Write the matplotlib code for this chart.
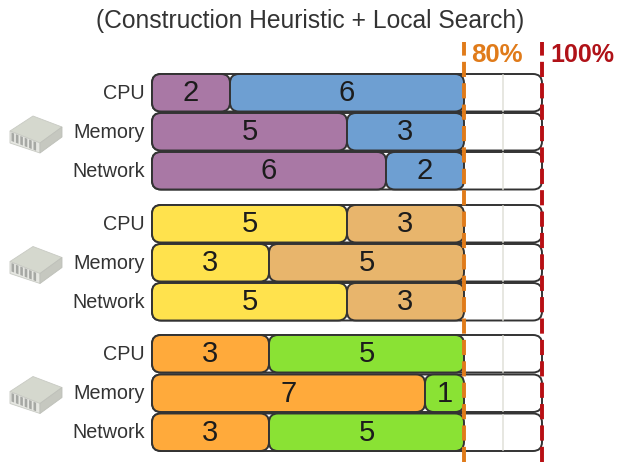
import matplotlib
matplotlib.use("Agg")
import matplotlib.pyplot as plt
from matplotlib.patches import FancyBboxPatch, Polygon

plt.rcParams['font.family'] = ['Liberation Sans', 'DejaVu Sans']

resources = ["CPU", "Memory", "Network"]
group_first = [[2, 5, 6], [5, 3, 5], [3, 7, 3]]
group_second = [[6, 3, 2], [3, 5, 3], [5, 1, 5]]
first_colors = ["#A978A5", "#FFE24D", "#FFAA3B"]
second_colors = ["#6E9FD2", "#E8B56C", "#8AE234"]
capacity = 10
threshold = 8
subtitle = "(Construction Heuristic + Local Search)"

W, H = 620, 462
U = 39.0          # pixels per unit
X0 = 152.0        # pixel of value 0
def yu(p):        # pixel row to axis units
    return (H - p) / U
def xu(p):
    return (p - X0) / U

row_tops = [[74, 113, 152], [205, 244, 283], [335, 374.5, 413.5]]
ROW_H = 37.5
icon_dy = [0, 130.5, 260.5]

fig = plt.figure(figsize=(W / 100, H / 100), dpi=100)
ax = fig.add_axes([0, 0, 1, 1])
ax.set_xlim(xu(0), xu(W))
ax.set_ylim(0, H / U)
ax.axis("off")

RAD = 9 / U
def rbar(x, top, w, color, z):
    h = ROW_H / U
    y = yu(top + ROW_H)
    ax.add_patch(FancyBboxPatch((x + RAD, y + RAD), w - 2 * RAD, h - 2 * RAD,
                                boxstyle=f"round,pad={RAD},rounding_size={RAD}",
                                fc=color, ec="#333333", lw=1.4, zorder=z,
                                mutation_scale=1))

for g in range(3):
    for r, name in enumerate(resources):
        top = row_tops[g][r]
        a, b = group_first[g][r], group_second[g][r]
        rbar(0, top, capacity, "white", 1)
        ax.plot([9, 9], [yu(top + 1), yu(top + ROW_H - 1)], color="#e0e0d8", lw=1.1, zorder=1.5)
        rbar(0, top, a, first_colors[g], 2)
        rbar(a, top, b, second_colors[g], 2)
        cy = yu(top + ROW_H / 2 + 0.5)
        ax.text(a / 2, cy, str(a), ha="center", va="center", fontsize=21, color="#1c1c1c", zorder=4)
        ax.text(a + b / 2, cy, str(b), ha="center", va="center", fontsize=21, color="#1c1c1c", zorder=4)
        ax.text(xu(145), cy, name, ha="right", va="center", fontsize=14.2, color="#333333", zorder=4)

    # server icon
    dy = icon_dy[g]
    P = lambda pts: [(xu(x), yu(y + dy)) for x, y in pts]
    ax.add_patch(Polygon(P([(10, 131), (33, 116), (62, 127), (40, 143)]), fc="#D5D8CE", ec="#C8CAC3", lw=0.6, zorder=3))
    ax.add_patch(Polygon(P([(10, 131), (40, 143), (40, 153), (10, 143)]), fc="#E6E7E2", ec="#C8CAC3", lw=0.6, zorder=3))
    ax.add_patch(Polygon(P([(40, 143), (62, 127), (62, 137), (40, 153)]), fc="#C6C8C0", ec="#BEC0B9", lw=0.6, zorder=3))
    for i in range(6):
        x = 11.5 + i * 4.4
        yt = 132.5 + i * 1.75
        ax.add_patch(Polygon(P([(x, yt), (x + 2.6, yt + 1), (x + 2.6, yt + 9.5), (x, yt + 8.5)]),
                             fc="#A6A8A4", ec="none", zorder=3.5))

ax.plot([threshold] * 2, [0, yu(42)], color="#E07B1A", lw=2.8, zorder=5, dashes=(3.9, 1.6))
ax.plot([capacity] * 2, [0, yu(42)], color="#B80F14", lw=2.8, zorder=5, dashes=(3.9, 1.6))

ax.text(xu(497), yu(55.5), "80%", ha="center", va="center", fontsize=18.5, fontweight="bold", color="#E07B1A")
ax.text(xu(582), yu(55.5), "100%", ha="center", va="center", fontsize=18, fontweight="bold", color="#B01218")
ax.text(xu(310.5), yu(21), subtitle, ha="center", va="center", fontsize=17.7, color="#333333")

fig.savefig("out.png", dpi=100)
